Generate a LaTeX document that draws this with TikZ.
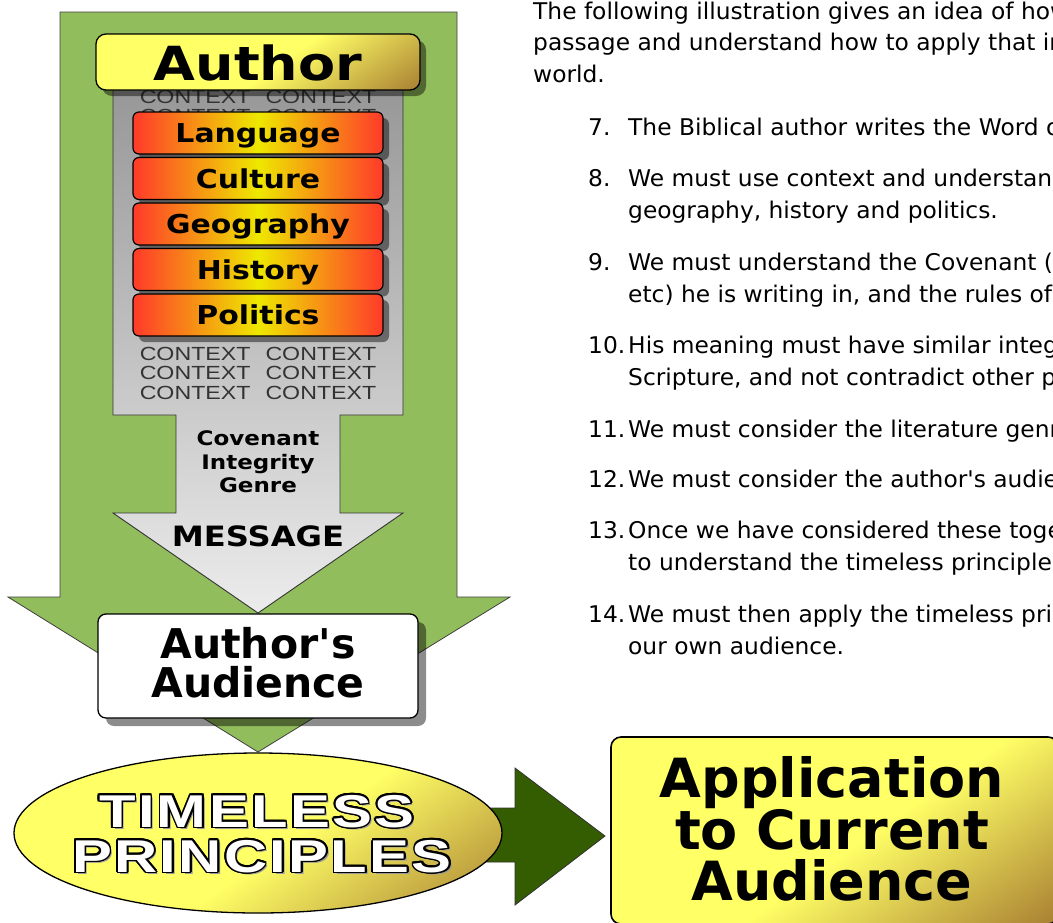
\documentclass[tikz,border=0pt]{standalone}
\usepackage{fontspec}
\setmainfont{DejaVu Sans}
\usetikzlibrary{shadows,calc,shapes.geometric}
\newfontfamily\blk{DejaVu Sans}[FakeStretch=1.15]
\newfontfamily\tah{DejaVu Sans}[FakeStretch=1.015]
\newfontfamily\arictx{Liberation Sans}[FakeStretch=1.22]
\newfontfamily\tlfont{Liberation Sans}[FakeStretch=1.3,LetterSpace=5]
\definecolor{grn}{RGB}{146,189,92}
\definecolor{dgrn}{RGB}{52,92,0}
\definecolor{yel}{RGB}{255,255,102}
\definecolor{gold}{RGB}{165,122,48}
\definecolor{redbx}{RGB}{255,58,42}
\definecolor{ylbx}{RGB}{238,232,0}
\definecolor{gtop}{RGB}{150,150,150}
\definecolor{gbot}{RGB}{236,236,236}
\colorlet{ygmix}{yel!50!gold}
\pgfdeclarehorizontalshading{goldsh}{100bp}{color(0bp)=(yel); color(54bp)=(yel); color(70bp)=(ygmix); color(86bp)=(gold); color(100bp)=(gold)}
\begin{document}
\begin{tikzpicture}[x=1pt,y=-1pt,
  shad/.style={drop shadow={shadow xshift=6pt,shadow yshift=-6pt,opacity=.45,fill=black}},
  redbox/.style={draw=black,line width=1.2pt,rounded corners=6pt,minimum width=250pt,minimum height=42pt,
    inner sep=0pt,text height=19pt,text depth=0pt,left color=redbx,right color=redbx,middle color=ylbx,
    shad,font=\blk\bfseries\fontsize{26}{26}\selectfont},
  goldbox/.style={draw=black,line width=1.3pt,shading=goldsh,shading angle=-55},
  ctx/.style={font=\arictx\fontsize{19}{19}\selectfont,text=black!80,inner sep=0pt,anchor=base},
  lbl/.style={font=\blk\bfseries\fontsize{20}{20}\selectfont,inner sep=0pt,anchor=base},
  bigb/.style={font=\bfseries\fontsize{41}{41}\selectfont,inner sep=0pt,anchor=base},
  appb/.style={font=\bfseries\fontsize{54}{54}\selectfont,inner sep=0pt,anchor=base},
  tl/.style={font=\tlfont\bfseries\fontsize{46}{46}\selectfont,inner sep=0pt,anchor=base west},
  txt/.style={font=\tah\fontsize{23}{23}\selectfont,inner sep=0pt,anchor=base west}]
\useasboundingbox (0,0) rectangle (1053,922);
\fill[white] (0,0) rectangle (1053,922);
\clip (0,0) rectangle (1053,922);

% big green arrow
\draw[fill=grn,draw=black!75,line width=.8pt] (60,12) -- (457,12) -- (457,597) -- (510,597) -- (258,752)
  -- (8,597) -- (60,597) -- cycle;
% grey arrow
\draw[top color=gtop,bottom color=gbot,draw=black!80,line width=.9pt] (113,80) -- (403,80) -- (403,415)
  -- (340,415) -- (340,513) -- (403,513) -- (258,613) -- (113,513) -- (176,513) -- (176,415) -- (113,415) -- cycle;

% context rows
\node[ctx] (c1) at (258,103) {CONTEXT\hspace{15pt}CONTEXT};
\node[ctx] (c2) at (258,122.5) {CONTEXT\hspace{15pt}CONTEXT};
\node[ctx] (c3) at (258,360) {CONTEXT\hspace{15pt}CONTEXT};
\node[ctx] (c4) at (258,379.5) {CONTEXT\hspace{15pt}CONTEXT};
\node[ctx] (c5) at (258,399) {CONTEXT\hspace{15pt}CONTEXT};

% author box
\node[goldbox,shad,rounded corners=10pt,minimum width=324pt,minimum height=56pt,inner sep=0pt] (author) at (258,62) {};
\node[font=\blk\bfseries\fontsize{47}{47}\selectfont,inner sep=0pt,anchor=base] (authort) at (258,80) {Author};

% red boxes
\node[redbox] (lang) at (258,133) {Language};
\node[redbox] (cult) at (258,178.5) {Culture};
\node[redbox] (geo) at (258,224) {Geography};
\node[redbox] (hist) at (258,269.5) {History};
\node[redbox] (pol) at (258,315) {Politics};

% covenant etc
\node[lbl] (cov) at (258,445) {Covenant};
\node[lbl] (integ) at (258,469) {Integrity};
\node[lbl] (genre) at (258,492) {Genre};
\node[font=\blk\bfseries\fontsize{28}{28}\selectfont,inner sep=0pt,anchor=base] (msg) at (258,546) {MESSAGE};

% author's audience
\node[draw=black,fill=white,line width=1.3pt,rounded corners=8pt,minimum width=320pt,minimum height=104pt,
  drop shadow={shadow xshift=8pt,shadow yshift=-8pt,opacity=.45,fill=black}] (aud) at (258,666) {};
\node[bigb] (aud1) at (258,658) {Author\textquotesingle s};
\node[bigb] (aud2) at (258,697) {Audience};

% dark green arrow
\draw[fill=dgrn,draw=black!80,line width=.8pt] (470,808) -- (515,808) -- (515,768) -- (605,836)
  -- (515,905) -- (515,862) -- (470,862) -- cycle;

% ellipse
\node[goldbox,ellipse,minimum width=488pt,minimum height=160pt,inner sep=0pt] (ell) at (258,833) {};
\node[tl,text=black!40] at (101.5,829.5) {TIMELESS};
\node[tl,text=black!40] at (74.5,874.5) {PRINCIPLES};
\foreach \ang in {0,22.5,...,337.5}{
  \node[tl,text=black] at ($(99,827)+(\ang:1.7)$) {TIMELESS};
  \node[tl,text=black] at ($(72,872)+(\ang:1.7)$) {PRINCIPLES};
}
\node[tl,text=white] (tim) at (99,827) {TIMELESS};
\node[tl,text=white] (pri) at (72,872) {PRINCIPLES};

% application box
\draw[goldbox,rounded corners=10pt,line width=1.6pt] (611,737) rectangle (1058,924);
\node[appb] (app1) at (832,797) {Application};
\node[appb] (app2) at (832,849) {to Current};
\node[appb] (app3) at (832,900) {Audience};

% right text
\node[txt] (p1) at (533,19) {The following illustration gives an idea of how};
\node[txt] (p2) at (533,50) {passage and understand how to apply that in};
\node[txt] (p3) at (533,82) {world.};
\node[txt] (n7) at (588,135) {7.};
\node[txt] (t7) at (628,135) {The Biblical author writes the Word of};
\node[txt] (n8) at (588,186) {8.};
\node[txt] (t8a) at (628,186) {We must use context and understand};
\node[txt] (t8b) at (628,218) {geography, history and politics.};
\node[txt] (n9) at (588,270) {9.};
\node[txt] (t9a) at (628,270) {We must understand the Covenant (};
\node[txt] (t9b) at (628,302) {etc) he is writing in, and the rules of};
\node[txt] (n10) at (588,353) {10.};
\node[txt] (t10a) at (628,353) {His meaning must have similar integ};
\node[txt] (t10b) at (628,385) {Scripture, and not contradict other p};
\node[txt] (n11) at (588,437) {11.};
\node[txt] (t11) at (628,437) {We must consider the literature genr};
\node[txt] (n12) at (588,487) {12.};
\node[txt] (t12) at (628,487) {We must consider the author\textquotesingle s audie};
\node[txt] (n13) at (588,538) {13.};
\node[txt] (t13a) at (628,538) {Once we have considered these toge};
\node[txt] (t13b) at (628,570) {to understand the timeless principle};
\node[txt] (n14) at (588,622) {14.};
\node[txt] (t14a) at (628,622) {We must then apply the timeless pri};
\node[txt] (t14b) at (628,654) {our own audience.};
\end{tikzpicture}
\end{document}
